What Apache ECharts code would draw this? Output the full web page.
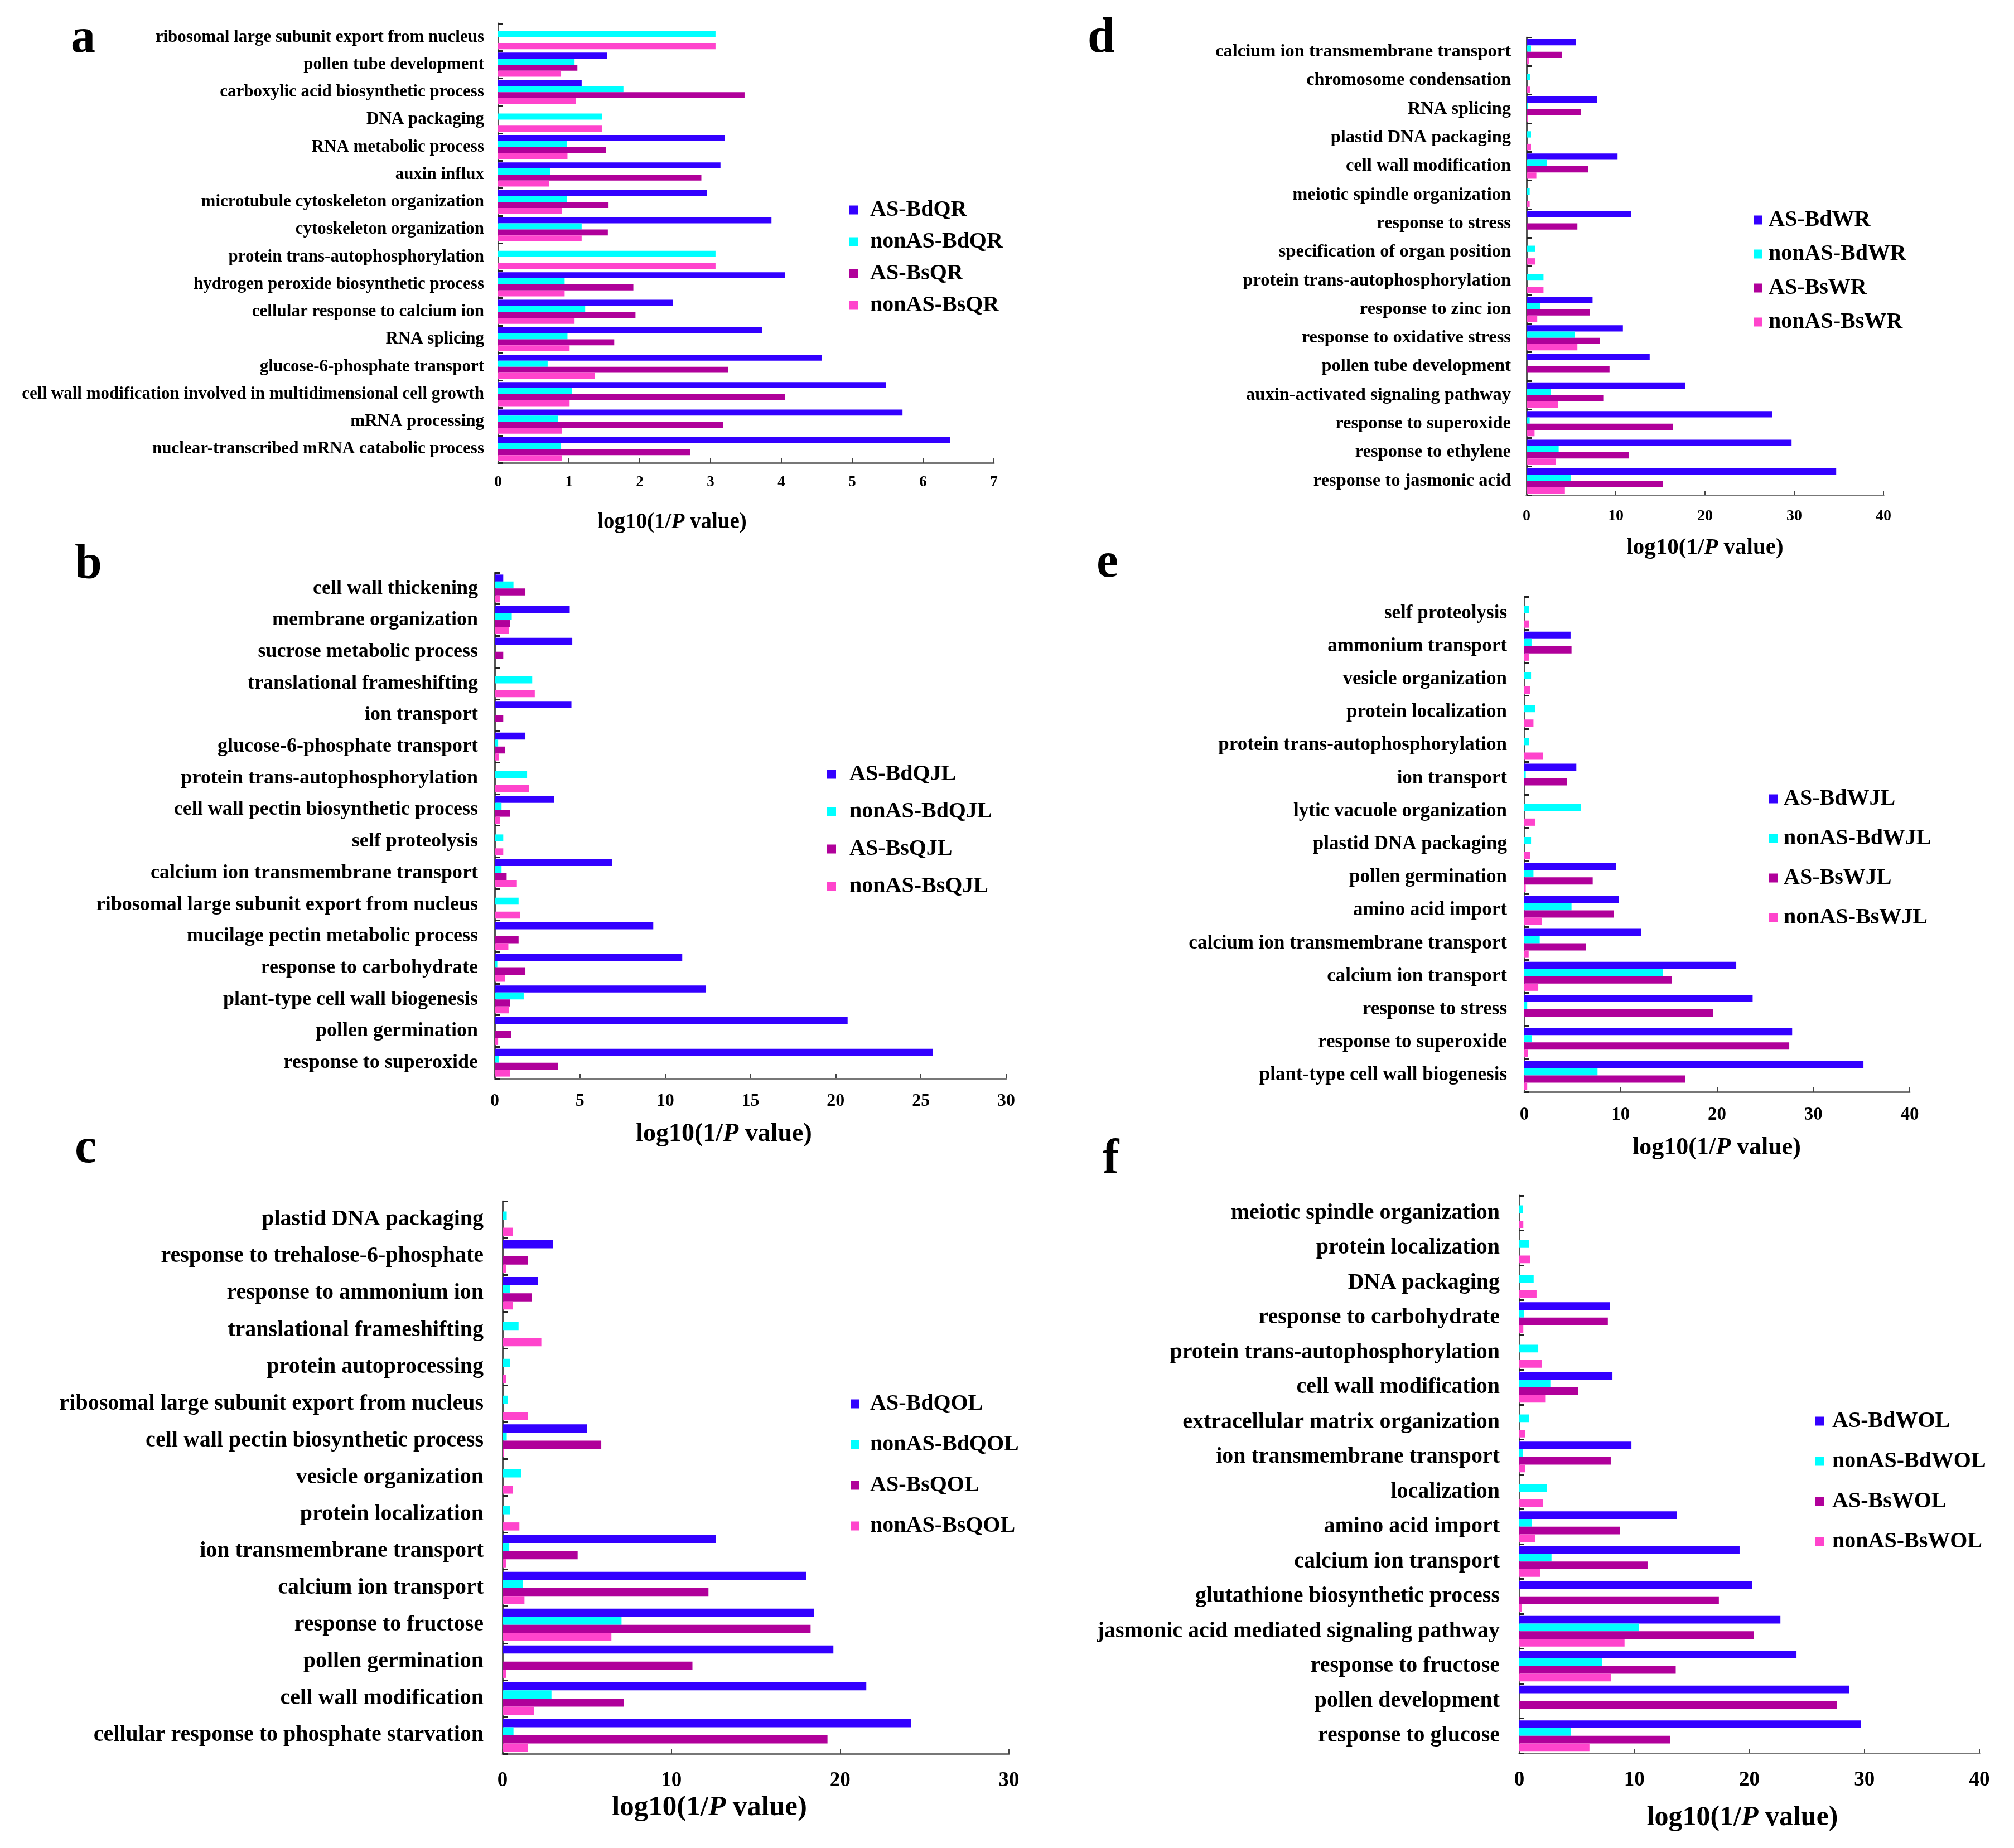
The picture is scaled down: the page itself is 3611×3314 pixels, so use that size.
<!DOCTYPE html>
<html>
<head>
<meta charset="utf-8">
<script src="https://cdn.jsdelivr.net/npm/echarts@6/dist/echarts.min.js"></script>
<style>
  html, body { margin: 0; padding: 0; background: #fff; }
  #main { width: 3611px; height: 3314px; }
</style>
</head>
<body>
<div id="main"></div>
<script>
// panel a (QR)
var catsA = ['ribosomal large subunit export from nucleus', 'pollen tube development', 'carboxylic acid biosynthetic process', 'DNA packaging', 'RNA metabolic process', 'auxin influx', 'microtubule cytoskeleton organization', 'cytoskeleton organization', 'protein trans-autophosphorylation', 'hydrogen peroxide biosynthetic process', 'cellular response to calcium ion', 'RNA splicing', 'glucose-6-phosphate transport', 'cell wall modification involved in multidimensional cell growth', 'mRNA processing', 'nuclear-transcribed mRNA catabolic process'];
var namesA = ['AS-BdQR', 'nonAS-BdQR', 'AS-BsQR', 'nonAS-BsQR'];
var asBdA  = [0, 1.54, 1.18, 0, 3.20, 3.14, 2.95, 3.86, 0, 4.05, 2.47, 3.73, 4.57, 5.48, 5.71, 6.38];
var nonBdA = [3.07, 1.08, 1.77, 1.47, 0.97, 0.74, 0.97, 1.18, 3.07, 0.94, 1.23, 0.98, 0.70, 1.04, 0.85, 0.89];
var asBsA  = [0, 1.12, 3.48, 0, 1.52, 2.87, 1.56, 1.55, 0, 1.91, 1.94, 1.64, 3.25, 4.05, 3.18, 2.71];
var nonBsA = [3.07, 0.89, 1.10, 1.47, 0.98, 0.72, 0.90, 1.18, 3.07, 0.94, 1.08, 1.01, 1.37, 1.01, 0.90, 0.90];

// panel b (QJL)
var catsB = ['cell wall thickening', 'membrane organization', 'sucrose metabolic process', 'translational frameshifting', 'ion transport', 'glucose-6-phosphate transport', 'protein trans-autophosphorylation', 'cell wall pectin biosynthetic process', 'self proteolysis', 'calcium ion transmembrane transport', 'ribosomal large subunit export from nucleus', 'mucilage pectin metabolic process', 'response to carbohydrate', 'plant-type cell wall biogenesis', 'pollen germination', 'response to superoxide'];
var namesB = ['AS-BdQJL', 'nonAS-BdQJL', 'AS-BsQJL', 'nonAS-BsQJL'];
var asBdB  = [0.5, 4.4, 4.55, 0, 4.5, 1.8, 0, 3.5, 0, 6.9, 0, 9.3, 11.0, 12.4, 20.7, 25.7];
var nonBdB = [1.1, 1.0, 0, 2.2, 0, 0.2, 1.9, 0.4, 0.5, 0.4, 1.4, 0, 0.15, 1.7, 0, 0.25];
var asBsB  = [1.8, 0.9, 0.5, 0, 0.5, 0.6, 0, 0.9, 0, 0.7, 0, 1.4, 1.8, 0.9, 0.95, 3.7];
var nonBsB = [0.3, 0.85, 0, 2.35, 0, 0.25, 2.0, 0.3, 0.5, 1.3, 1.5, 0.8, 0.6, 0.85, 0.2, 0.9];

// panel c (QOL)
var catsC = ['plastid DNA packaging', 'response to trehalose-6-phosphate', 'response to ammonium ion', 'translational frameshifting', 'protein autoprocessing', 'ribosomal large subunit export from nucleus', 'cell wall pectin biosynthetic process', 'vesicle organization', 'protein localization', 'ion transmembrane transport', 'calcium ion transport', 'response to fructose', 'pollen germination', 'cell wall modification', 'cellular response to phosphate starvation'];
var namesC = ['AS-BdQOL', 'nonAS-BdQOL', 'AS-BsQOL', 'nonAS-BsQOL'];
var asBdC  = [0, 3.0, 2.1, 0, 0, 0, 5.0, 0, 0, 12.65, 18.0, 18.45, 19.6, 21.55, 24.2];
var nonBdC = [0.25, 0, 0.45, 0.95, 0.45, 0.3, 0.25, 1.1, 0.45, 0.4, 1.2, 7.05, 0, 2.9, 0.65];
var asBsC  = [0, 1.5, 1.75, 0, 0, 0, 5.85, 0, 0, 4.45, 12.2, 18.25, 11.25, 7.2, 19.25];
var nonBsC = [0.6, 0.2, 0.6, 2.3, 0.2, 1.5, 0.1, 0.6, 1.0, 0.2, 1.3, 6.45, 0.2, 1.85, 1.5];

// panel d (WR)
var catsD = ['calcium ion transmembrane transport', 'chromosome condensation', 'RNA splicing', 'plastid DNA packaging', 'cell wall modification', 'meiotic spindle organization', 'response to stress', 'specification of organ position', 'protein trans-autophosphorylation', 'response to zinc ion', 'response to oxidative stress', 'pollen tube development', 'auxin-activated signaling pathway', 'response to superoxide', 'response to ethylene', 'response to jasmonic acid'];
var namesD = ['AS-BdWR', 'nonAS-BdWR', 'AS-BsWR', 'nonAS-BsWR'];
var asBdD  = [5.5, 0, 7.9, 0, 10.2, 0, 11.7, 0, 0, 7.4, 10.8, 13.8, 17.8, 27.5, 29.7, 34.7];
var nonBdD = [0.5, 0.4, 0.15, 0.5, 2.3, 0.35, 0, 1.0, 1.9, 1.5, 5.4, 0, 2.7, 0.35, 3.6, 5.0];
var asBsD  = [4.0, 0, 6.1, 0, 6.9, 0, 5.7, 0, 0, 7.1, 8.2, 9.3, 8.6, 16.4, 11.5, 15.3];
var nonBsD = [0.3, 0.4, 0.15, 0.5, 1.1, 0.35, 0, 1.0, 1.9, 1.2, 5.7, 0, 3.5, 0.9, 3.3, 4.3];

// panel e (WJL)
var catsE = ['self proteolysis', 'ammonium transport', 'vesicle organization', 'protein localization', 'protein trans-autophosphorylation', 'ion transport', 'lytic vacuole organization', 'plastid DNA packaging', 'pollen germination', 'amino acid import', 'calcium ion transmembrane transport', 'calcium ion transport', 'response to stress', 'response to superoxide', 'plant-type cell wall biogenesis'];
var namesE = ['AS-BdWJL', 'nonAS-BdWJL', 'AS-BsWJL', 'nonAS-BsWJL'];
var asBdE  = [0, 4.8, 0, 0, 0, 5.4, 0, 0, 9.5, 9.8, 12.1, 22.0, 23.7, 27.8, 35.2];
var nonBdE = [0.5, 0.75, 0.7, 1.1, 0.5, 0.15, 5.9, 0.7, 0.95, 4.9, 1.6, 14.4, 0.3, 0.8, 7.6];
var asBsE  = [0, 4.9, 0, 0, 0, 4.4, 0, 0, 7.1, 9.3, 6.4, 15.3, 19.6, 27.5, 16.7];
var nonBsE = [0.5, 0.5, 0.6, 0.95, 1.95, 0, 1.1, 0.6, 0.15, 1.8, 0.45, 1.45, 0, 0.4, 0.3];

// panel f (WOL)
var catsF = ['meiotic spindle organization', 'protein localization', 'DNA packaging', 'response to carbohydrate', 'protein trans-autophosphorylation', 'cell wall modification', 'extracellular matrix organization', 'ion transmembrane transport', 'localization', 'amino acid import', 'calcium ion transport', 'glutathione biosynthetic process', 'jasmonic acid mediated signaling pathway', 'response to fructose', 'pollen development', 'response to glucose'];
var namesF = ['AS-BdWOL', 'nonAS-BdWOL', 'AS-BsWOL', 'nonAS-BsWOL'];
var asBdF  = [0, 0, 0, 7.9, 0, 8.1, 0, 9.75, 0, 13.7, 19.15, 20.25, 22.7, 24.1, 28.7, 29.7];
var nonBdF = [0.3, 0.85, 1.25, 0.4, 1.65, 2.7, 0.85, 0.3, 2.4, 1.1, 2.8, 0, 10.4, 7.2, 0, 4.5];
var asBsF  = [0, 0, 0, 7.7, 0, 5.1, 0, 7.95, 0, 8.75, 11.15, 17.35, 20.4, 13.6, 27.6, 13.1];
var nonBsF = [0.35, 0.95, 1.5, 0.35, 1.95, 2.3, 0.5, 0.5, 2.05, 1.4, 1.8, 0.2, 9.15, 8.0, 0, 6.1];

var FONT = "'Liberation Serif', 'Times New Roman', serif";
var colors = ['#3300ff', '#00ffff', '#b0009a', '#ff44cc'];

// layout of the six panels (pixels)
// legend: [left, top, marker-to-text distance, gap between items]
var panels = [
  { tag: 'a', cats: catsA, names: namesA, vals: [asBdA, nonBdA, asBsA, nonBsA], max: 7, step: 1,
    grid: [893, 42, 889, 788], label: 31, labelGap: 25, tick: 27, tickGap: 22,
    title: [1205, 937, 39], letter: [127, 70], legend: [1518, 351, 37, 16] },
  { tag: 'b', cats: catsB, names: namesB, vals: [asBdB, nonBdB, asBsB, nonBsB], max: 30, step: 5,
    grid: [887, 1027, 917, 907], label: 36, labelGap: 30, tick: 32, tickGap: 25,
    title: [1298, 2034, 46], letter: [134, 1014], legend: [1478, 1363, 40, 26] },
  { tag: 'c', cats: catsC, names: namesC, vals: [asBdC, nonBdC, asBsC, nonBsC], max: 30, step: 10,
    grid: [901, 2154, 908, 991], label: 40, labelGap: 34, tick: 37, tickGap: 30,
    title: [1272, 3242, 51], letter: [134, 2061], legend: [1520, 2492, 35, 32] },
  { tag: 'd', cats: catsD, names: namesD, vals: [asBdD, nonBdD, asBsD, nonBsD], max: 40, step: 10,
    grid: [2737, 67, 640, 821], label: 32.5, labelGap: 28, tick: 28, tickGap: 24,
    title: [3057, 982, 41], letter: [1950, 70], legend: [3139, 369, 27, 20] },
  { tag: 'e', cats: catsE, names: namesE, vals: [asBdE, nonBdE, asBsE, nonBsE], max: 40, step: 10,
    grid: [2733, 1070, 691, 888], label: 35, labelGap: 31, tick: 33, tickGap: 25,
    title: [3078, 2059, 44], letter: [1966, 1011], legend: [3166, 1407, 27, 30] },
  { tag: 'f', cats: catsF, names: namesF, vals: [asBdF, nonBdF, asBsF, nonBsF], max: 40, step: 10,
    grid: [2724, 2144, 825, 1000], label: 40, labelGap: 35, tick: 37, tickGap: 30,
    title: [3124, 3260, 50], letter: [1977, 2080], legend: [3249, 2523, 31, 31] }
];

var grids = [], xAxes = [], yAxes = [], series = [], legends = [], graphics = [];

panels.forEach(function (p, i) {
  grids.push({ left: p.grid[0], top: p.grid[1], width: p.grid[2], height: p.grid[3] });

  xAxes.push({
    gridIndex: i,
    type: 'value',
    min: 0,
    max: p.max,
    interval: p.step,
    axisLine: { show: true, lineStyle: { color: '#777', width: 3 } },
    axisTick: { show: true, inside: true, length: 8, lineStyle: { color: '#444', width: 2 } },
    splitLine: { show: false },
    axisLabel: { fontFamily: FONT, fontWeight: 'bold', fontSize: p.tick, color: '#000', margin: p.tickGap }
  });

  yAxes.push({
    gridIndex: i,
    type: 'category',
    inverse: true,
    data: p.cats,
    axisLine: { show: true, lineStyle: { color: '#555', width: 3 } },
    axisTick: { show: true, inside: true, length: 9, lineStyle: { color: '#222', width: 3 } },
    axisLabel: { fontFamily: FONT, fontWeight: 'bold', fontSize: p.label, color: '#000', margin: p.labelGap, interval: 0 }
  });

  p.names.forEach(function (name, k) {
    series.push({
      name: name,
      type: 'bar',
      xAxisIndex: i,
      yAxisIndex: i,
      data: p.vals[k],
      barGap: '0%',
      barCategoryGap: '12%',
      itemStyle: { color: colors[k] },
      animation: false
    });
  });

  legends.push({
    orient: 'vertical',
    left: p.legend[0],
    top: p.legend[1],
    itemGap: p.legend[3],
    itemWidth: 16,
    itemHeight: 16,
    icon: 'rect',
    selectedMode: false,
    data: p.names,
    textStyle: {
      fontFamily: FONT, fontWeight: 'bold', fontSize: 40, lineHeight: 41, color: '#000',
      padding: [0, 0, 0, p.legend[2] - 21]
    }
  });

  // panel letter
  graphics.push({
    type: 'text',
    x: p.letter[0],
    y: p.letter[1],
    style: {
      text: p.tag,
      fontFamily: FONT, fontWeight: 'bold', fontSize: 88, fill: '#000',
      align: 'left', verticalAlign: 'middle'
    }
  });

  // x axis title with italic P
  graphics.push({
    type: 'text',
    x: p.title[0],
    y: p.title[1],
    style: {
      text: '{n|log10(1/}{i|P}{n| value)}',
      align: 'center', verticalAlign: 'middle',
      rich: {
        n: { fontFamily: FONT, fontWeight: 'bold', fontSize: p.title[2], fill: '#000', color: '#000' },
        i: { fontFamily: FONT, fontWeight: 'bold', fontStyle: 'italic', fontSize: p.title[2], fill: '#000', color: '#000' }
      }
    }
  });
});

var chart = echarts.init(document.getElementById('main'));
chart.setOption({
  backgroundColor: '#fff',
  animation: false,
  grid: grids,
  xAxis: xAxes,
  yAxis: yAxes,
  legend: legends,
  series: series,
  graphic: graphics
});
</script>
</body>
</html>
